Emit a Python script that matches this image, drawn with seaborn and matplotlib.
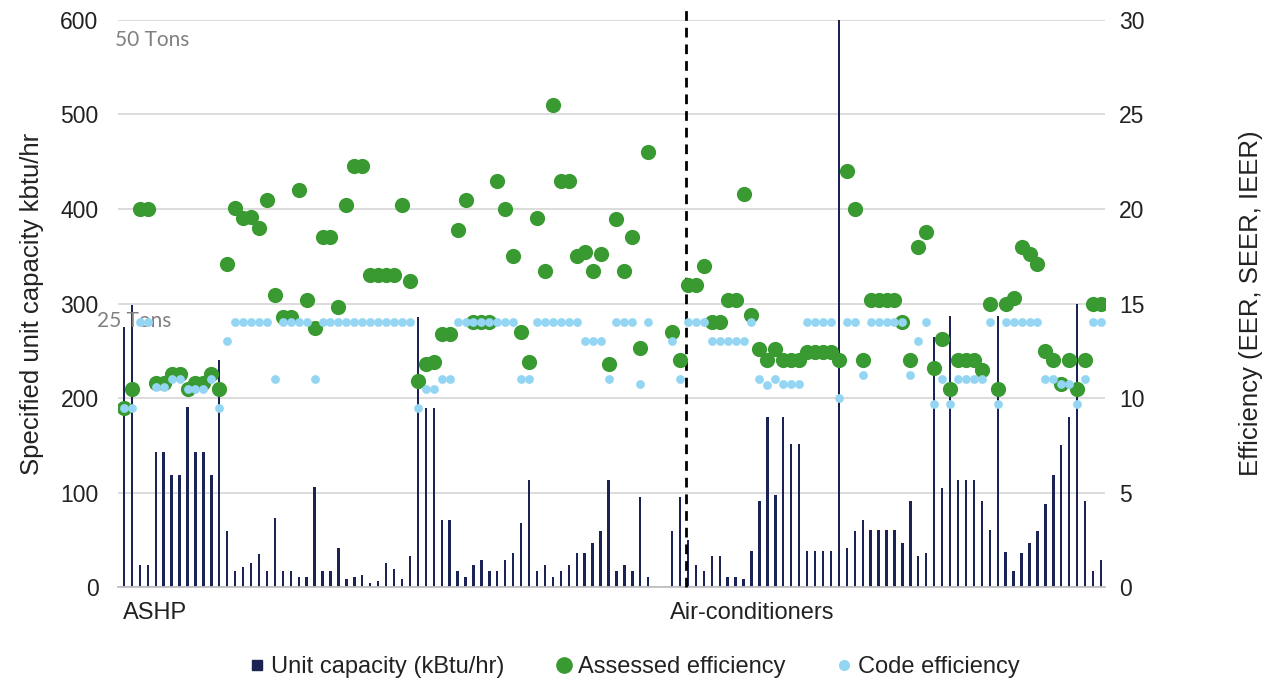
import numpy as np
import pandas as pd
import matplotlib
matplotlib.use("Agg")
import matplotlib.pyplot as plt
import matplotlib.transforms as mtransforms
from matplotlib.lines import Line2D
import seaborn as sns

nan = np.nan

# Unit capacity (kBtu/hr), one value per unit
capacity = [275, 298, 24, 24, 143, 143, 119, 119, 191, 143,
            143, 119, 240, 59, 17, 21, 26, 35, 17, 73,
            17, 17, 11, 11, 106, 17, 17, 41, 9, 11,
            13, 4, 7, 26, 19, 9, 33, 286, 190, 190,
            71, 71, 17, 11, 24, 29, 17, 17, 29, 36,
            68, 113, 17, 24, 11, 17, 24, 36, 36, 47,
            59, 113, 17, 24, 17, 95, 11, nan, nan, 59,
            95, 50, 24, 17, 33, 33, 11, 11, 9, 38,
            91, 180, 97, 180, 151, 151, 38, 38, 38, 38,
            600, 42, 59, 71, 60, 60, 60, 60, 47, 91,
            33, 36, 265, 105, 287, 113, 113, 113, 91, 60,
            287, 37, 17, 36, 47, 59, 88, 119, 150, 180,
            300, 91, 17, 29]

# Assessed efficiency (EER, SEER, IEER)
assessed = [9.5, 10.5, 20, 20, 10.8, 10.8, 11.3, 11.3, 10.5, 10.8,
            10.8, 11.3, 10.5, 17.1, 20.05, 19.5, 19.6, 19, 20.5, 15.45,
            14.3, 14.3, 21, 15.2, 13.7, 18.5, 18.5, 14.8, 20.2, 22.3,
            22.3, 16.5, 16.5, 16.5, 16.5, 20.2, 16.2, 10.9, 11.8, 11.9,
            13.4, 13.4, 18.9, 20.5, 14, 14, 14, 21.5, 20, 17.5,
            13.5, 11.9, 19.5, 16.7, 25.5, 21.5, 21.5, 17.5, 17.7, 16.7,
            17.6, 11.8, 19.45, 16.7, 18.5, 12.65, 23, nan, nan, 13.5,
            12, 16, 16, 17, 14, 14, 15.2, 15.2, 20.8, 14.4,
            12.6, 12, 12.6, 12, 12, 12, 12.45, 12.45, 12.45, 12.45,
            12, 22, 20, 12, 15.2, 15.2, 15.2, 15.2, 14, 12,
            18, 18.8, 11.6, 13.1, 10.5, 12, 12, 12, 11.5, 15,
            10.5, 15, 15.3, 18, 17.6, 17.1, 12.5, 12, 10.75, 12,
            10.5, 12, 15, 15]

# Code efficiency
code = [9.5, 9.5, 14, 14, 10.6, 10.6, 11, 11, 10.5, 10.5,
        10.5, 11, 9.5, 13, 14, 14, 14, 14, 14, 11,
        14, 14, 14, 14, 11, 14, 14, 14, 14, 14,
        14, 14, 14, 14, 14, 14, 14, 9.5, 10.5, 10.5,
        11, 11, 14, 14, 14, 14, 14, 14, 14, 14,
        11, 11, 14, 14, 14, 14, 14, 14, 13, 13,
        13, 11, 14, 14, 14, 10.75, 14, nan, nan, 13,
        11, 14, 14, 14, 13, 13, 13, 13, 13, 14,
        11, 10.7, 11, 10.75, 10.75, 10.75, 14, 14, 14, 14,
        10, 14, 14, 11.2, 14, 14, 14, 14, 14, 11.2,
        13, 14, 9.7, 11, 9.7, 11, 11, 11, 11, 14,
        9.7, 14, 14, 14, 14, 14, 11, 11, 10.75, 10.75,
        9.7, 11, 14, 14]

group_labels = ["ASHP", "Air-conditioners"]
group_starts = [-0.1, 68.7]
divider_pos = 70.75
ton_labels = ["50 Tons", "25 Tons"]
ton_pos = [(-1.1, 579), (-3.4, 282)]

left_ticks = [0, 100, 200, 300, 400, 500, 600]
right_ticks = [0, 5, 10, 15, 20, 25, 30]

NAVY = "#1B2254"
GREEN = "#3A9A32"
LBLUE = "#93D5F2"
TXT = "#222222"

n = len(capacity)
df = pd.DataFrame({"unit": np.arange(n), "capacity": capacity,
                   "assessed": assessed, "code": code})

sns.set_theme(style="white")
plt.rcParams["font.family"] = ["Liberation Sans", "DejaVu Sans"]

fig = plt.figure(figsize=(12.73, 6.86), dpi=100)
ax = fig.add_axes([0.0927, 0.144, 0.7753, 0.827])

sns.barplot(data=df, x="unit", y="capacity", ax=ax, color=NAVY,
            width=0.3, saturation=1, errorbar=None)
for p in ax.patches:
    p.set_edgecolor("none")

ax.set_xlim(-0.75, n - 0.5)
ax.set_ylim(0, 600)
ax.set_yticks(left_ticks)
ax.set_xticks([])
ax.set_xlabel("")
ax.set_ylabel("Specified unit capacity kbtu/hr", fontsize=18.5, color=TXT, labelpad=12)
ax.tick_params(axis="y", length=0, pad=14, labelsize=16.5, labelcolor=TXT)
ax.yaxis.grid(True, color="#D9D9D9", linewidth=1.3)
ax.set_axisbelow(True)
for s in ["top", "left", "right"]:
    ax.spines[s].set_visible(False)
ax.spines["bottom"].set_color("#BFBFBF")
ax.spines["bottom"].set_linewidth(1.3)

ax.plot([divider_pos, divider_pos], [0, 612], color="black", lw=2,
        linestyle=(0, (3.5, 2.5)), clip_on=False, zorder=4)

ax2 = ax.twinx()
sns.scatterplot(data=df, x="unit", y="assessed", ax=ax2, color=GREEN,
                s=120, linewidth=0, zorder=3, legend=False)
sns.scatterplot(data=df, x="unit", y="code", ax=ax2, color=LBLUE,
                s=40, linewidth=0, zorder=4, legend=False)
ax2.set_ylim(0, 30)
ax2.set_yticks(right_ticks)
ax2.set_xlim(-0.75, n - 0.5)
ax2.set_ylabel("Efficiency (EER, SEER, IEER)", fontsize=18.5, color=TXT, labelpad=68)
ax2.tick_params(axis="y", length=0, pad=10, labelsize=16.5, labelcolor=TXT)
ax2.grid(False)
for s in ["top", "left", "right", "bottom"]:
    ax2.spines[s].set_visible(False)

trans = mtransforms.blended_transform_factory(ax.transData, ax.transAxes)
for lab, xs in zip(group_labels, group_starts):
    ax.text(xs, -0.045, lab, transform=trans, ha="left", va="center",
            fontsize=17, color=TXT)

for lab, (tx, ty) in zip(ton_labels, ton_pos):
    ax.text(tx, ty, lab, ha="left", va="center", fontsize=15,
            color="#808080", family=["Lato", "DejaVu Sans"], clip_on=False, zorder=5)

handles = [
    Line2D([], [], marker="s", linestyle="none", color=NAVY, markersize=7),
    Line2D([], [], marker="o", linestyle="none", color=GREEN, markersize=11),
    Line2D([], [], marker="o", linestyle="none", color=LBLUE, markersize=7),
]
labels = ["Unit capacity (kBtu/hr)", "Assessed efficiency", "Code efficiency"]
fig.legend(handles, labels, loc="center", bbox_to_anchor=(0.497, 0.027),
           ncol=3, frameon=False, fontsize=17, handletextpad=0.1,
           columnspacing=2.0, handlelength=1.0, labelcolor=TXT)

fig.savefig("out.png", dpi=100)
